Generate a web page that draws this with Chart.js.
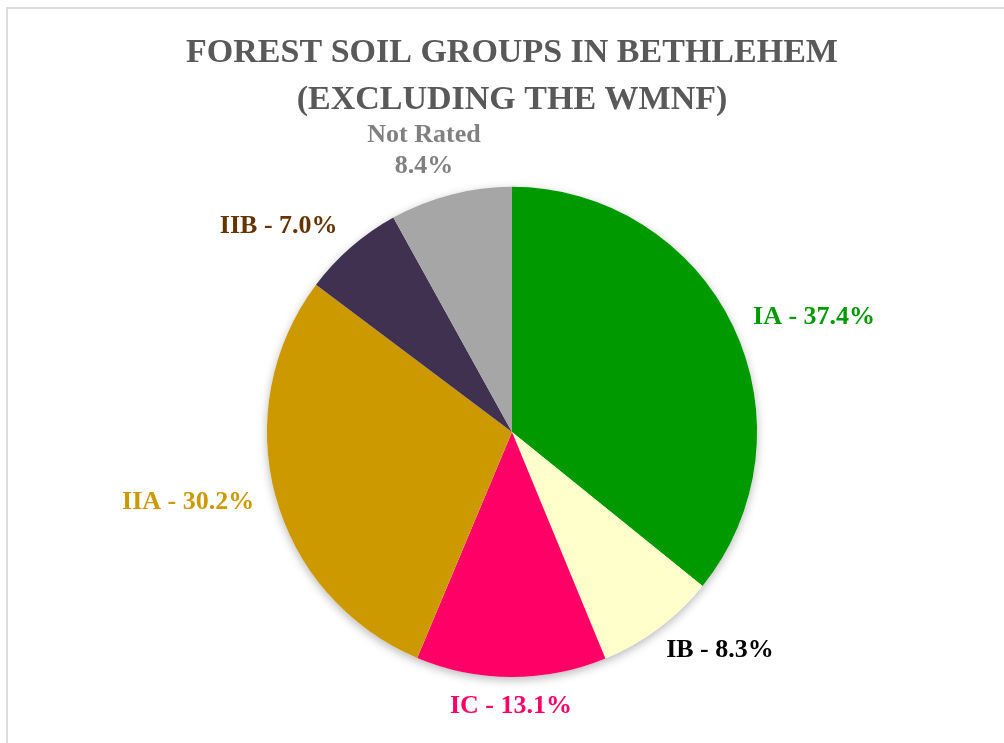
<!DOCTYPE html>
<html>
<head>
<meta charset="utf-8">
<script src="https://cdn.jsdelivr.net/npm/chart.js@4.4.0/dist/chart.umd.min.js"></script>
<style>
  body { margin: 0; background: #fff; }
  #wrap { position: relative; width: 1004px; height: 743px; }
  #frame { position: absolute; left: 6px; top: 7px; right: -10px; bottom: -10px;
           border-top: 2px solid #dcdcdc; border-left: 2px solid #dcdcdc; }
  canvas { position: absolute; left: 0; top: 0; }
</style>
</head>
<body>
<div id="wrap">
  <div id="frame"></div>
  <canvas id="soil" width="1004" height="743"></canvas>
</div>
<script>
// Datos de la grafica
const grupos = ['IA', 'IB', 'IC', 'IIA', 'IIB', 'Not Rated'];
const porcentajes = [37.4, 8.3, 13.1, 30.2, 7.0, 8.4];
const coloresSector = ['#009900', '#FFFFCC', '#FF0066', '#CC9900', '#403151', '#A6A6A6'];
const coloresTexto = ['#009900', '#000000', '#FF0066', '#CC9900', '#663300', '#808080'];

const fuenteEtiqueta = 'bold 26px "Liberation Serif", "Times New Roman", serif';

const limitar = v => Math.max(-1, Math.min(1, v));

// sombra suave debajo del pastel
const sombra = {
  id: 'sombra',
  beforeDatasetsDraw(chart) {
    const arc = chart.getDatasetMeta(0).data[0];
    if (!arc) return;
    const ctx = chart.ctx;
    ctx.save();
    ctx.shadowColor = 'rgba(0,0,0,0.28)';
    ctx.shadowBlur = 10;
    ctx.shadowOffsetY = 3;
    ctx.fillStyle = '#fff';
    ctx.beginPath();
    ctx.arc(arc.x, arc.y, arc.outerRadius, 0, Math.PI * 2);
    ctx.fill();
    ctx.restore();
  }
};

// etiquetas fuera del pastel
const etiquetas = {
  id: 'etiquetas',
  afterDatasetsDraw(chart) {
    const ctx = chart.ctx;
    const meta = chart.getDatasetMeta(0);
    ctx.save();
    ctx.font = fuenteEtiqueta;
    ctx.textAlign = 'center';
    ctx.textBaseline = 'middle';
    meta.data.forEach((arc, i) => {
      const valor = porcentajes[i].toFixed(1) + '%';
      const lineas = grupos[i].includes(' ') ? [grupos[i], valor] : [grupos[i] + ' - ' + valor];
      const mid = (arc.startAngle + arc.endAngle) / 2;
      const dx = Math.cos(mid), dy = Math.sin(mid);
      const d = arc.outerRadius + 22;
      const ax = arc.x + dx * d, ay = arc.y + dy * d;
      const lh = 31;
      const w = Math.max(...lineas.map(t => ctx.measureText(t).width));
      const h = lineas.length * lh;
      const hx = limitar(dx * 1.5);
      const hy = Math.sign(dy) * Math.max(0, limitar((Math.abs(dy) - 0.5) * 2));
      const cx = ax + hx * w / 2;
      // la linea mas cercana al pastel queda en el ancla
      const cerca = ay + hy * lh / 4;
      const cy = cerca + (hy < 0 ? -(h - lh) / 2 : (h - lh) / 2);
      ctx.fillStyle = coloresTexto[i];
      lineas.forEach((t, k) => {
        ctx.fillText(t, cx, cy - h / 2 + lh / 2 + k * lh);
      });
    });
    ctx.restore();
  }
};

const ctx = document.getElementById('soil');
new Chart(ctx, {
  type: 'pie',
  data: {
    labels: grupos,
    datasets: [{
      data: porcentajes,
      backgroundColor: coloresSector,
      borderWidth: 0,
      hoverOffset: 0
    }]
  },
  options: {
    responsive: false,
    animation: false,
    layout: { padding: { top: 0, bottom: 66, left: 20, right: 0 } },
    plugins: {
      legend: { display: false },
      tooltip: { enabled: false },
      title: {
        display: true,
        text: ['FOREST SOIL GROUPS IN BETHLEHEM', '(EXCLUDING THE WMNF)'],
        color: '#595959',
        font: { family: '"Liberation Serif", "Times New Roman", serif', size: 34, weight: 'bold', lineHeight: 1.38 },
        padding: { top: 30, bottom: 63 }
      }
    }
  },
  plugins: [sombra, etiquetas]
});
</script>
</body>
</html>
